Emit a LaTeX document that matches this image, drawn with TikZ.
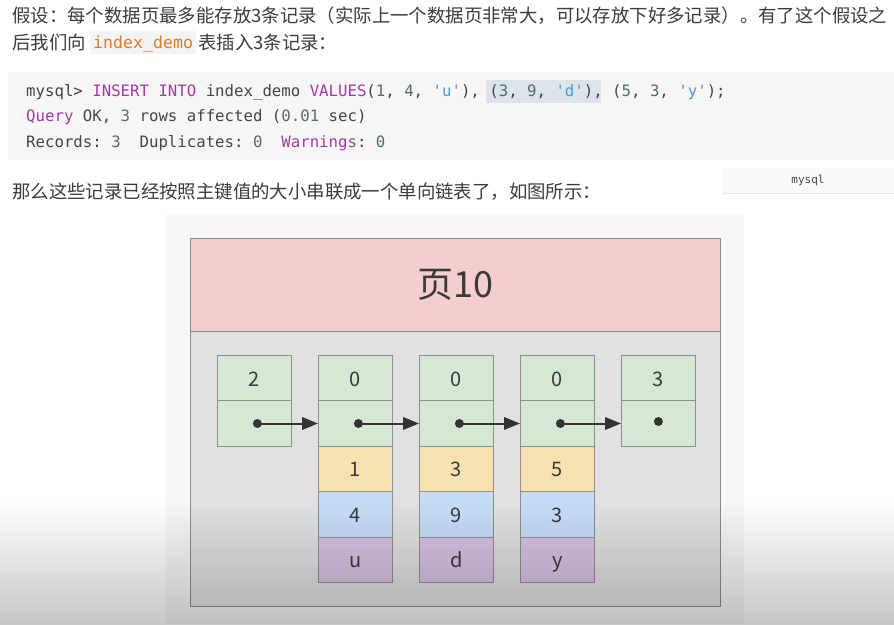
\documentclass[tikz,border=0pt]{standalone}
\usepackage{fontspec}
\setmainfont{Noto Sans CJK SC}
\setmonofont{DejaVu Sans Mono}
\usetikzlibrary{arrows.meta,fadings}
\definecolor{bodytext}{HTML}{3C3C3C}
\definecolor{codebg}{HTML}{F3F3F3}
\definecolor{blockbg}{HTML}{F6F6F6}
\definecolor{hlbg}{HTML}{DDE3EA}
\definecolor{inlinecol}{HTML}{E07B2A}
\definecolor{kw}{HTML}{A23AA6}
\definecolor{num}{HTML}{52705E}
\definecolor{str}{HTML}{4A9BD1}
\definecolor{plain}{HTML}{454545}
\definecolor{tagbg}{HTML}{F9F9F9}
\definecolor{tagline}{HTML}{E2E2E2}
\definecolor{diagbg}{HTML}{F7F7F7}
\definecolor{hdrpink}{HTML}{F4CDCD}
\definecolor{bodygray}{HTML}{E1E1E1}
\definecolor{pageline}{HTML}{8C8C8C}
\definecolor{cellline}{HTML}{909090}
\definecolor{cgreen}{HTML}{D5E8D4}
\definecolor{corange}{HTML}{F8E1B1}
\definecolor{cblue}{HTML}{C6DDF8}
\definecolor{cpurple}{HTML}{D9C3E4}
\definecolor{celltext}{HTML}{3A3A3A}
\definecolor{arrowcol}{HTML}{333333}
\tikzset{
  txt/.style={inner sep=0pt, font=\fontsize{18.4}{20}\selectfont, text=bodytext},
  codetxt/.style={inner sep=0pt, font=\ttfamily\fontsize{15.7}{18}\selectfont, text=plain},
  cell/.style={draw=cellline, line width=0.8pt, minimum width=74pt, minimum height=45.4pt,
    inner sep=0pt, anchor=north west, text=celltext, font=\fontsize{20}{22}\selectfont,
    text height=16pt, text depth=0pt},
  gcell/.style={cell, fill=cgreen},
  ocell/.style={cell, fill=corange},
  bcell/.style={cell, fill=cblue},
  pcell/.style={cell, fill=cpurple},
  arr/.style={draw=arrowcol, line width=2pt, -{Triangle[length=16pt,width=12.5pt]}},
}
\begin{document}
\begin{tikzpicture}[x=1pt,y=-1pt]
\useasboundingbox (0,0) rectangle (894,624);
\fill[white] (0,0) rectangle (894,624);
% text lines
\node[txt, anchor=base west] (t1) at (12,22) {假设：每个数据页最多能存放3条记录（实际上一个数据页非常大，可以存放下好多记录）。有了这个假设之};
\node[txt, anchor=base west] (t2a) at (12,49) {后我们向};
\fill[codebg] (90,31) rectangle (196,54);
\node[inner sep=0pt, anchor=base west, font=\ttfamily\fontsize{16.6}{18}\selectfont, text=inlinecol] (t2b) at (93,48) {index\_demo};
\node[txt, anchor=base west] (t2c) at (198,49) {表插入3条记录：};
% code block
\fill[blockbg] (8,72) rectangle (894,160);
\fill[hlbg] (486,80) rectangle (601,103);
\node[codetxt, anchor=base west] (code1) at (26,96) {mysql> \textcolor{kw}{INSERT INTO} index\_demo \textcolor{kw}{VALUES}(\textcolor{num}{1}, \textcolor{num}{4}, \textcolor{str}{'u'}), (\textcolor{num}{3}, \textcolor{num}{9}, \textcolor{str}{'d'}), (\textcolor{num}{5}, \textcolor{num}{3}, \textcolor{str}{'y'});};
\node[codetxt, anchor=base west] (code2) at (26,121) {\textcolor{kw}{Query} OK, \textcolor{num}{3} rows affected (\textcolor{num}{0.01} sec)};
\node[codetxt, anchor=base west] (code3) at (26,147) {Records: \textcolor{num}{3}~~Duplicates: \textcolor{num}{0}~~\textcolor{kw}{Warnings}: \textcolor{num}{0}};
% mysql tag
\fill[tagbg] (722,168) rectangle (894,193);
\draw[tagline, line width=1pt] (722,193) -- (894,193);
\node[inner sep=0pt, font=\ttfamily\fontsize{11}{12}\selectfont, text=plain] (tag) at (808,180.5) {mysql};
\node[txt, anchor=base west] (t3) at (12,198) {那么这些记录已经按照主键值的大小串联成一个单向链表了，如图所示：};
% diagram
\fill[diagbg] (166,214) rectangle (744,624);
\node[draw=pageline, line width=0.8pt, fill=hdrpink, minimum width=530pt, minimum height=93pt, inner sep=0pt, anchor=north west, text=celltext, font=\fontsize{36}{40}\selectfont] (hdr) at (190,238) {页10};
\node[draw=pageline, line width=0.8pt, fill=bodygray, minimum width=530pt, minimum height=275pt, inner sep=0pt, anchor=north west] (pagebody) at (190,331) {};
\foreach \i/\v in {1/2,2/0,3/0,4/0,5/3}{
  \pgfmathsetmacro{\xx}{217+(\i-1)*101}
  \node[gcell] (h\i) at (\xx,355) {\v};
  \node[gcell] (p\i) at (\xx,400.4) {};
}
\foreach \i/\k/\n/\c in {2/1/4/u,3/3/9/d,4/5/3/y}{
  \pgfmathsetmacro{\xx}{217+(\i-1)*101}
  \node[ocell] (k\i) at (\xx,445.8) {\k};
  \node[bcell] (n\i) at (\xx,491.2) {\n};
  \node[pcell] (s\i) at (\xx,536.6) {\c};
}
\foreach \i in {1,...,4}{
  \coordinate (d\i) at ([xshift=3pt]p\i.center);
}
\coordinate (d5) at ([yshift=2pt]p5.center);
\foreach \i/\j in {1/2,2/3,3/4,4/5}{
  \draw[arr] (d\i) -- (p\j.west);
}
\foreach \i in {1,...,5}{
  \fill[arrowcol] (d\i) circle (4.5pt);
}
% bottom shadow
\fill[black, opacity=0.32, path fading=north] (0,500) rectangle (894,680);
\end{tikzpicture}
\end{document}
